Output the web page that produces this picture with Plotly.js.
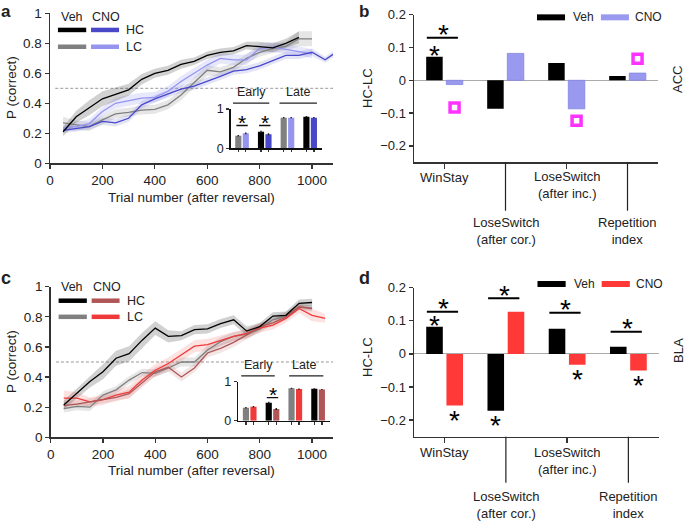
<!DOCTYPE html>
<html><head><meta charset="utf-8">
<script src="https://cdn.plot.ly/plotly-3.0.1.min.js"></script>
<style>html,body{margin:0;padding:0;background:#fff}#chart{width:685px;height:521px}</style>
</head><body><div id="chart"></div>
<script>
// ---------------- DATA ----------------
const trials = [50,100,150,200,250,300,350,400,450,500,550,600,650,700,750,800,850,900,950,1000,1050,1100];
// Panel a (ACC)
const aVehHC = [0.21,0.31,0.37,0.43,0.46,0.49,0.56,0.60,0.62,0.66,0.68,0.72,0.74,0.75,0.785,0.78,0.77,0.80,0.84];
const aVehHCsem = [0.03,0.04,0.05,0.05,0.045,0.04,0.035,0.03,0.03,0.03,0.025,0.025,0.025,0.025,0.025,0.03,0.03,0.03,0.04];
const aVehLC = [0.27,0.255,0.245,0.29,0.33,0.34,0.355,0.36,0.39,0.455,0.54,0.62,0.61,0.64,0.70,0.74,0.765,0.78,0.83,0.83];
const aVehLCsem = [0.04,0.03,0.03,0.03,0.03,0.03,0.03,0.03,0.03,0.035,0.035,0.035,0.03,0.03,0.03,0.03,0.03,0.03,0.05,0.05];
const aCnoHC = [0.22,0.235,0.245,0.28,0.27,0.30,0.39,0.43,0.465,0.495,0.515,0.545,0.58,0.615,0.625,0.65,0.685,0.72,0.72,0.74,0.69,0.75];
const aCnoHCsem = [0.02,0.02,0.02,0.025,0.025,0.025,0.025,0.025,0.025,0.025,0.025,0.025,0.025,0.025,0.025,0.025,0.025,0.025,0.025,0.025,0.02,0.02];
const aCnoLC = [0.235,0.245,0.265,0.345,0.40,0.42,0.435,0.44,0.48,0.545,0.60,0.655,0.70,0.69,0.69,0.765,0.775,0.76,0.75,0.73];
const aCnoLCsem = [0.02,0.03,0.03,0.03,0.035,0.035,0.035,0.035,0.035,0.035,0.035,0.035,0.035,0.035,0.035,0.035,0.035,0.03,0.03,0.03];
// Panel c (BLA)
const cVehHC = [0.215,0.29,0.37,0.435,0.525,0.555,0.645,0.725,0.67,0.675,0.715,0.72,0.755,0.78,0.705,0.735,0.805,0.81,0.89,0.895];
const cVehHCsem = [0.03,0.035,0.04,0.05,0.05,0.05,0.05,0.045,0.04,0.03,0.03,0.03,0.03,0.03,0.03,0.025,0.025,0.025,0.025,0.025];
const cVehLC = [0.19,0.205,0.20,0.28,0.315,0.38,0.43,0.425,0.46,0.50,0.50,0.58,0.635,0.67,0.685,0.72,0.78,0.81,0.865,0.86];
const cVehLCsem = [0.025,0.025,0.025,0.025,0.025,0.025,0.025,0.025,0.025,0.03,0.03,0.03,0.03,0.03,0.03,0.025,0.025,0.025,0.02,0.02];
const cCnoHC = [0.21,0.22,0.235,0.25,0.265,0.29,0.36,0.435,0.465,0.40,0.46,0.56,0.59,0.63,0.68,0.735,0.76,0.80,0.865,0.855];
const cCnoHCsem = [0.025,0.025,0.025,0.025,0.025,0.03,0.03,0.03,0.03,0.03,0.03,0.03,0.03,0.03,0.03,0.025,0.025,0.025,0.02,0.02];
const cCnoLC = [0.26,0.26,0.235,0.25,0.28,0.30,0.38,0.445,0.49,0.545,0.605,0.615,0.645,0.67,0.69,0.725,0.745,0.79,0.855,0.81,0.79];
const cCnoLCsem = [0.05,0.04,0.03,0.035,0.035,0.04,0.04,0.04,0.04,0.04,0.04,0.04,0.035,0.03,0.03,0.03,0.03,0.03,0.03,0.04,0.03];
// Insets: groups = Early LC, Early HC, Late LC, Late HC
const insetGroups = ['Early LC','Early HC','Late LC','Late HC'];
const insetAVeh = [0.32,0.42,0.78,0.805];
const insetACno = [0.38,0.36,0.78,0.78];
const insetCVeh = [0.333,0.46,0.83,0.82];
const insetCCno = [0.36,0.30,0.81,0.80];
const insetErr = [0.02,0.025,0.015,0.015];
const insetASig = [0.58,0.58,null,null];
const insetCSig = [null,0.59,null,null];
// Panels b and d
const measures = ['WinStay','LoseSwitch<br>(after cor.)','LoseSwitch<br>(after inc.)','Repetition<br>index'];
const bVeh = [0.072,-0.087,0.053,0.013];
const bCno = [-0.013,0.082,-0.087,0.022];
const bMagenta = [-0.083,null,-0.123,0.066];
const bSigLine = [0.13,null,null,null];
const bSigVeh = [1,0,0,0];
const bSigCno = [0,0,0,0];
const dVeh = [0.082,-0.172,0.076,0.022];
const dCno = [-0.156,0.127,-0.033,-0.05];
const dSigLine = [0.127,0.168,0.124,0.067];
const dSigVeh = [1,1,0,0];
const dSigCno = [1,0,1,1];
const CHANCE = 0.5;

// ---------------- STYLE ----------------
const W=685,H=521;
const FONT='Liberation Sans, Arial, Helvetica, sans-serif';
const BLACK='#000000', GREY='#808080', DBLUE='#4848c8', LBLUE='#9595f0', DRED='#b05656', RED='#f03a3a', BRED='#ff3838';
const dx=(a,b)=>[a/W,b/W];
const dy=(t,b)=>[1-b/H,1-t/H];
const px=x=>x/W, py=y=>1-y/H;
const BARGAP=0.34, OFF=(1-BARGAP)/4;

const traces=[];
function band(vals,sem,color,xa,ya){
  const xs=trials.slice(0,vals.length);
  const up=vals.map((v,i)=>v+sem[i]);
  const lo=vals.map((v,i)=>v-sem[i]);
  traces.push({x:xs.concat(xs.slice().reverse()),y:up.concat(lo.slice().reverse()),fill:'toself',fillcolor:color,
    line:{width:0},mode:'lines',hoverinfo:'skip',showlegend:false,xaxis:xa,yaxis:ya});
}
function line(vals,color,xa,ya){
  traces.push({x:trials.slice(0,vals.length),y:vals,mode:'lines',line:{color:color,width:1.3},showlegend:false,xaxis:xa,yaxis:ya});
}
band(aVehLC,aVehLCsem,'rgba(128,128,128,0.2)','x','y');
band(aCnoLC,aCnoLCsem,'rgba(149,149,240,0.22)','x','y');
band(aCnoHC,aCnoHCsem,'rgba(72,72,200,0.15)','x','y');
band(aVehHC,aVehHCsem,'rgba(0,0,0,0.18)','x','y');
line(aVehLC,GREY,'x','y');
line(aCnoLC,LBLUE,'x','y');
line(aCnoHC,DBLUE,'x','y');
line(aVehHC,BLACK,'x','y');
band(cVehLC,cVehLCsem,'rgba(128,128,128,0.2)','x4','y4');
band(cCnoLC,cCnoLCsem,'rgba(240,58,58,0.15)','x4','y4');
band(cCnoHC,cCnoHCsem,'rgba(176,86,86,0.15)','x4','y4');
band(cVehHC,cVehHCsem,'rgba(0,0,0,0.18)','x4','y4');
line(cVehLC,GREY,'x4','y4');
line(cCnoLC,RED,'x4','y4');
line(cCnoHC,DRED,'x4','y4');
line(cVehHC,BLACK,'x4','y4');

const gIdx=insetGroups.map((_,i)=>i);
function insetBars(veh,cno,vehCols,cnoCols,xa,ya){
  traces.push({type:'bar',x:gIdx,y:veh,marker:{color:vehCols},error_y:{type:'data',array:insetErr,color:'#222',thickness:1.5,width:0},xaxis:xa,yaxis:ya,showlegend:false});
  traces.push({type:'bar',x:gIdx,y:cno,marker:{color:cnoCols},error_y:{type:'data',array:insetErr,color:'#222',thickness:1.5,width:0},xaxis:xa,yaxis:ya,showlegend:false});
}
insetBars(insetAVeh,insetACno,[GREY,BLACK,GREY,BLACK],[LBLUE,DBLUE,LBLUE,DBLUE],'x2','y2');
insetBars(insetCVeh,insetCCno,[GREY,BLACK,GREY,BLACK],[RED,DRED,RED,DRED],'x5','y5');

const mIdx=measures.map((_,i)=>i);
traces.push({type:'bar',x:mIdx,y:bVeh,marker:{color:BLACK},xaxis:'x3',yaxis:'y3',showlegend:false});
traces.push({type:'bar',x:mIdx,y:bCno,marker:{color:'#9999f0',line:{color:'#8484e0',width:0.8}},xaxis:'x3',yaxis:'y3',showlegend:false});
traces.push({x:mIdx.map(i=>i+OFF),y:bMagenta,mode:'markers',marker:{symbol:'square-open',size:9,color:'#ff33ff',line:{width:3.5,color:'#ff33ff'}},xaxis:'x3',yaxis:'y3',showlegend:false,cliponaxis:false});
traces.push({type:'bar',x:mIdx,y:dVeh,marker:{color:BLACK},xaxis:'x6',yaxis:'y6',showlegend:false});
traces.push({type:'bar',x:mIdx,y:dCno,marker:{color:BRED},xaxis:'x6',yaxis:'y6',showlegend:false});

// ---------------- ANNOTATIONS / SHAPES ----------------
const ann=[], shp=[];
const tf={family:FONT,color:'#222'};
function txt(x,y,text,size,extra){ann.push(Object.assign({xref:'paper',yref:'paper',x:px(x),y:py(y),text:text,showarrow:false,font:Object.assign({},tf,{size:size}),xanchor:'center',yanchor:'middle'},extra||{}));}
function star(xa,ya,x,y,shift,size){ann.push({xref:xa,yref:ya,x:x,y:y,text:'*',showarrow:false,font:{family:FONT,size:size||28,color:'#000'},xanchor:'center',yanchor:'middle',yshift:shift});}
txt(6,0,'<b>a</b>',17,{yanchor:'top',y:1}); txt(364,0,'<b>b</b>',17,{yanchor:'top',y:1});
txt(6,278,'<b>c</b>',18); txt(364,278,'<b>d</b>',18);
txt(11,88,'P (correct)',13.5,{textangle:-90});
txt(11,362,'P (correct)',13.5,{textangle:-90});
txt(191,197,'Trial number (after reversal)',13.5);
txt(191,470,'Trial number (after reversal)',13.5);
txt(367,88,'HC-LC',13,{textangle:-90});
txt(367,357,'HC-LC',13,{textangle:-90});
txt(677,80,'ACC',13,{textangle:-90});
txt(678,351,'BLA',13,{textangle:-90});

shp.push({type:'line',xref:'x',yref:'y',x0:20,x1:1080,y0:CHANCE,y1:CHANCE,line:{color:'#999',width:1,dash:'3px,2px'},layer:'below'});
shp.push({type:'line',xref:'x4',yref:'y4',x0:20,x1:1080,y0:CHANCE,y1:CHANCE,line:{color:'#999',width:1,dash:'3px,2px'},layer:'below'});

function lcLegend(xa,ya,hcCol,lcCol,rowHC,rowLC,head){
  const xr=xa+' domain', yr=ya+' domain';
  shp.push({type:'line',xref:xr,yref:yr,x0:0.028,x1:0.128,y0:rowHC,y1:rowHC,line:{color:BLACK,width:4.5}});
  shp.push({type:'line',xref:xr,yref:yr,x0:0.145,x1:0.244,y0:rowHC,y1:rowHC,line:{color:hcCol,width:4.5}});
  shp.push({type:'line',xref:xr,yref:yr,x0:0.028,x1:0.128,y0:rowLC,y1:rowLC,line:{color:GREY,width:4.5}});
  shp.push({type:'line',xref:xr,yref:yr,x0:0.145,x1:0.244,y0:rowLC,y1:rowLC,line:{color:lcCol,width:4.5}});
  const f=Object.assign({},tf,{size:12.5});
  ann.push({xref:xr,yref:yr,x:0.077,y:head,text:'Veh',showarrow:false,font:f,xanchor:'center',yanchor:'middle'});
  ann.push({xref:xr,yref:yr,x:0.198,y:head,text:'CNO',showarrow:false,font:f,xanchor:'center',yanchor:'middle'});
  ann.push({xref:xr,yref:yr,x:0.262,y:rowHC,text:'HC',showarrow:false,font:f,xanchor:'left',yanchor:'middle'});
  ann.push({xref:xr,yref:yr,x:0.262,y:rowLC,text:'LC',showarrow:false,font:f,xanchor:'left',yanchor:'middle'});
}
lcLegend('x','y',DBLUE,LBLUE,0.889,0.777,0.975);
lcLegend('x4','y4',DRED,RED,0.907,0.80,1.0);

// inset decorations (inset y range is [0,1], so y-domain fraction equals the data value)
function insetDeco(xa,ya,earlyX,earlyL,lateX,lateL,sig){
  const f=Object.assign({},tf,{size:12.5});
  const yd=ya+' domain';
  ann.push({xref:xa,yref:yd,x:earlyX,y:1.42,text:'Early',showarrow:false,font:f,xanchor:'center',yanchor:'middle'});
  ann.push({xref:xa,yref:yd,x:lateX,y:1.42,text:'Late',showarrow:false,font:f,xanchor:'center',yanchor:'middle'});
  shp.push({type:'line',xref:xa,yref:yd,x0:earlyL[0],x1:earlyL[1],y0:1.15,y1:1.15,line:{color:'#222',width:1.2}});
  shp.push({type:'line',xref:xa,yref:yd,x0:lateL[0],x1:lateL[1],y0:1.15,y1:1.15,line:{color:'#222',width:1.2}});
  sig.forEach((v,i)=>{ if(v===null) return;
    shp.push({type:'line',xref:xa,yref:ya,x0:i-0.25,x1:i+0.25,y0:v,y1:v,line:{color:'#111',width:1.3}});
    star(xa,ya,i,v,3,21);
  });
}
insetDeco('x2','y2',0.4,[-0.4,1.2],2.47,[1.65,3.3],insetASig);
insetDeco('x5','y5',0.37,[-0.37,1.1],2.4,[1.73,3.23],insetCSig);

function barDeco(xa,ya,sigLine,sigVeh,sigCno,veh,cno,lowTickEnd,catY,legendCol,legendY){
  const yr=ya+' domain', xr=xa+' domain';
  measures.forEach((m,i)=>{
    const low = (i%2===1);
    ann.push({xref:xa,yref:yr,x:i,y:low?catY[1]:catY[0],text:m,showarrow:false,font:Object.assign({},tf,{size:13}),xanchor:'center',yanchor:'middle'});
    if(low) shp.push({type:'line',xref:xa,yref:yr,x0:i,x1:i,y0:0,y1:lowTickEnd,line:{color:'#222',width:1.2}});
    if(sigLine[i]!==null){
      shp.push({type:'line',xref:xa,yref:ya,x0:i-0.29,x1:i+0.22,y0:sigLine[i],y1:sigLine[i],line:{color:'#000',width:2}});
      star(xa,ya,i-0.02,sigLine[i],3);
    }
    if(sigVeh[i]){ const up=veh[i]>=0; star(xa,ya,i-OFF,veh[i],up?1:-15); }
    if(sigCno[i]){ const up=cno[i]>=0; star(xa,ya,i+OFF,cno[i],up?1:-15); }
  });
  shp.push({type:'line',xref:xr,yref:yr,x0:0.504,x1:0.619,y0:legendY,y1:legendY,line:{color:BLACK,width:6}});
  shp.push({type:'line',xref:xr,yref:yr,x0:0.766,x1:0.881,y0:legendY,y1:legendY,line:{color:legendCol,width:6}});
  const f=Object.assign({},tf,{size:12});
  ann.push({xref:xr,yref:yr,x:0.645,y:legendY,text:'Veh',showarrow:false,font:f,xanchor:'left',yanchor:'middle'});
  ann.push({xref:xr,yref:yr,x:0.898,y:legendY,text:'CNO',showarrow:false,font:f,xanchor:'left',yanchor:'middle'});
}
barDeco('x3','y3',bSigLine,bSigVeh,bSigCno,bVeh,bCno,-0.328,[-0.10,-0.467],'#9999f0',0.982);
barDeco('x6','y6',dSigLine,dSigVeh,dSigCno,dVeh,dCno,-0.309,[-0.107,-0.46],BRED,1.025);
ann.forEach(a=>{ if(a.text==='LoseSwitch<br>(after inc.)'){ a.y = (a.yref==='y3 domain')?-0.152:-0.16; }});

// ---------------- AXES ----------------
const axBase={showline:true,linecolor:'#333',linewidth:1.5,ticks:'outside',ticklen:4,tickwidth:1.3,tickcolor:'#333',showgrid:false,zeroline:false,tickfont:{family:FONT,size:13,color:'#222'},fixedrange:true};
const A=o=>Object.assign({},axBase,o);
const yTicks01={tickvals:[0,0.2,0.4,0.6,0.8,1],ticktext:['0','0.2','0.4','0.6','0.8','1']};
const xTicksT={tickvals:[0,200,400,600,800,1000]};
const bdY={range:[-0.25,0.2],tickvals:[-0.2,-0.1,0,0.1,0.2],ticktext:['\u22120.2','\u22120.1','0','0.1','0.2'],zeroline:true,zerolinecolor:'#aaa',zerolinewidth:1};
const insetTicks=[];
gIdx.forEach(i=>{insetTicks.push(i-OFF);insetTicks.push(i+OFF);});
const insetX={range:[-0.5,3.5],tickvals:insetTicks,ticklen:2.5,showticklabels:false,linecolor:'#111',linewidth:1.6};
const insetY={range:[0,1],tickvals:[0,1],ticktext:['0','1'],ticklen:3,linecolor:'#111',linewidth:1.6,tickfont:{family:FONT,size:12.5,color:'#222'}};

const layout={
  width:W,height:H,margin:{l:0,r:0,t:0,b:0},paper_bgcolor:'#fff',plot_bgcolor:'rgba(0,0,0,0)',
  font:{family:FONT,color:'#222'},showlegend:false,barmode:'group',bargap:BARGAP,bargroupgap:0.18,
  xaxis:A(Object.assign({domain:dx(50,333),range:[0,1080],anchor:'y'},xTicksT,{tickfont:{family:FONT,size:13.5,color:'#222'}})),
  yaxis:A(Object.assign({domain:dy(13.3,163.3),range:[0,1],anchor:'x'},yTicks01,{tickfont:{family:FONT,size:13.5,color:'#222'}})),
  xaxis2:A(Object.assign({domain:dx(230.7,321.5),anchor:'y2'},insetX)),
  yaxis2:A(Object.assign({domain:dy(109,148.3),anchor:'x2'},insetY)),
  xaxis3:A({domain:dx(414,658),range:[-0.5,3.5],anchor:'y3',tickvals:[0,2],ticklen:5,showticklabels:false}),
  yaxis3:A(Object.assign({domain:dy(14.7,162.3),anchor:'x3'},bdY)),
  xaxis4:A(Object.assign({domain:dx(50.7,333),range:[0,1080],anchor:'y4'},xTicksT,{tickfont:{family:FONT,size:13.5,color:'#222'}})),
  yaxis4:A(Object.assign({domain:dy(286.7,437.3),range:[0,1],anchor:'x4'},yTicks01,{tickfont:{family:FONT,size:13.5,color:'#222'}})),
  xaxis5:A(Object.assign({domain:dx(238.3,329.5),anchor:'y5'},insetX)),
  yaxis5:A(Object.assign({domain:dy(381.7,420.7),anchor:'x5'},insetY)),
  xaxis6:A({domain:dx(414,659),range:[-0.5,3.5],anchor:'y6',tickvals:[0,2],ticklen:5,showticklabels:false}),
  yaxis6:A(Object.assign({domain:dy(287.7,436.7),anchor:'x6'},bdY)),
  annotations:ann,shapes:shp
};
Plotly.newPlot('chart',traces,layout,{staticPlot:true,displayModeBar:false});
</script></body></html>
